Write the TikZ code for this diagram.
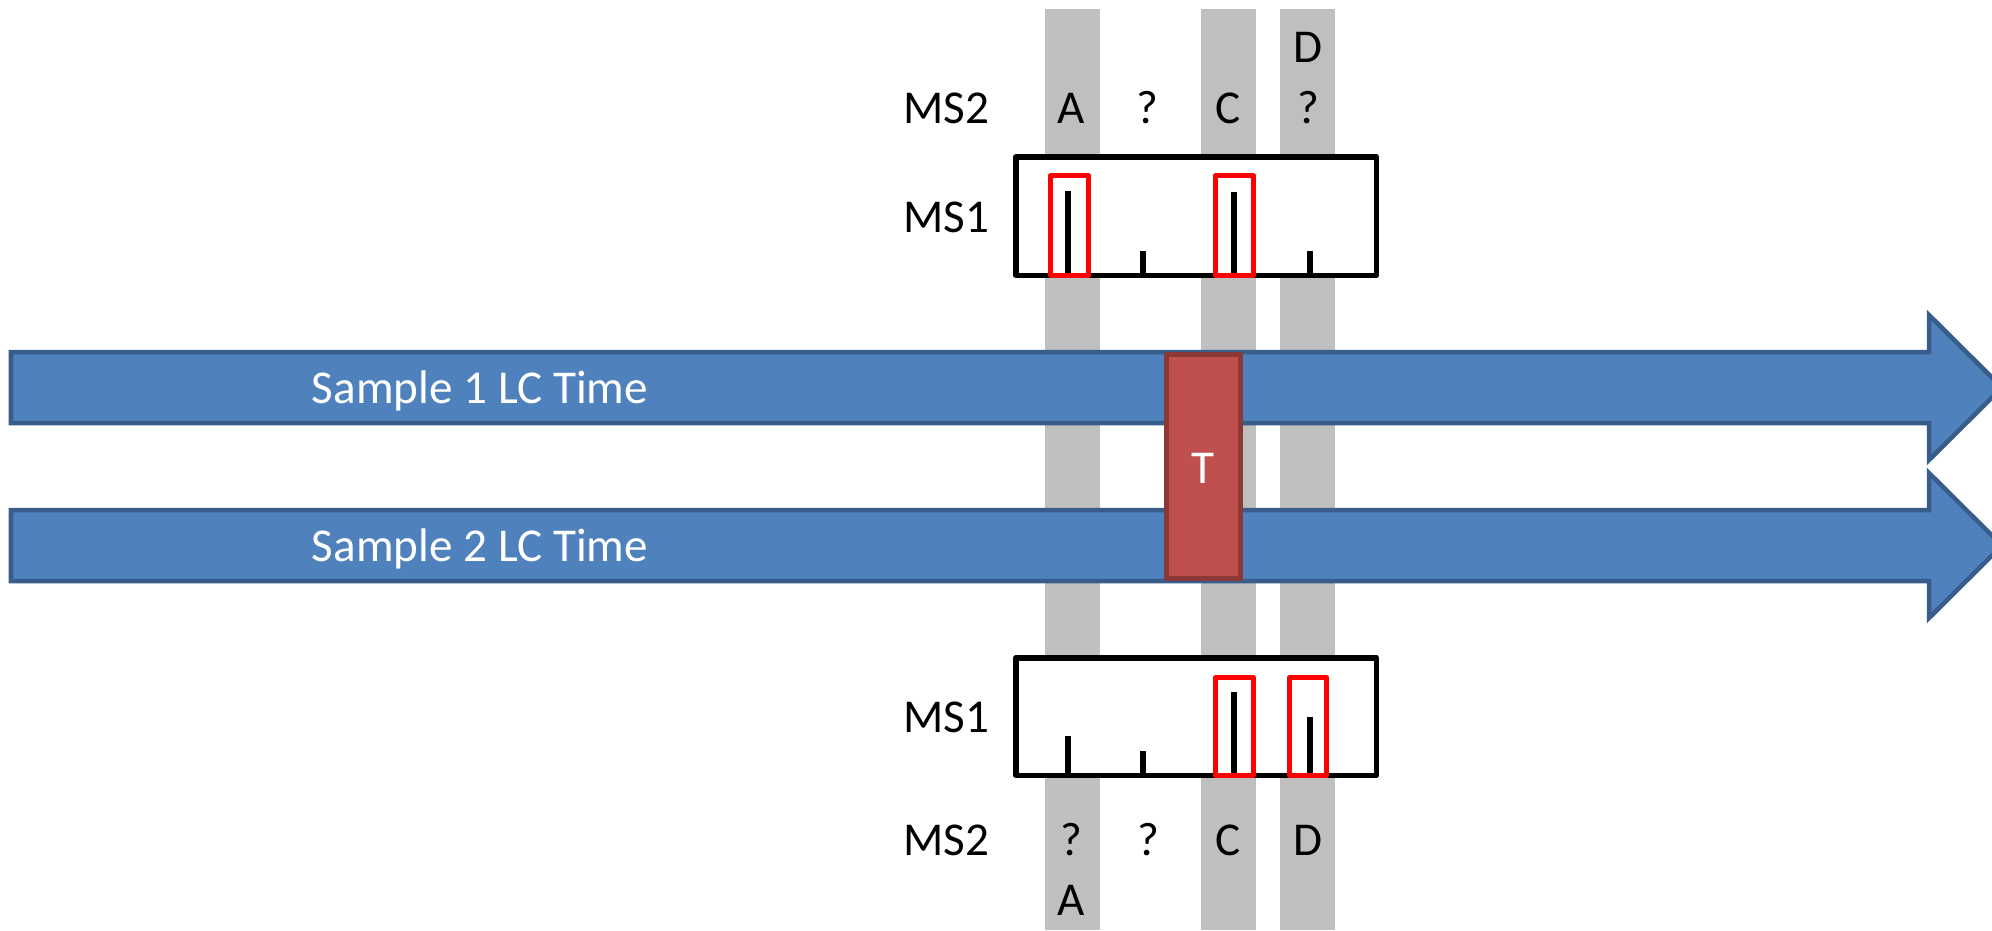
\documentclass[tikz,border=0pt]{standalone}
\usepackage{fontspec}
\setmainfont{Carlito}
\definecolor{band}{HTML}{BFBFBF}
\definecolor{lcfill}{HTML}{4F81BD}
\definecolor{lcedge}{HTML}{385D8A}
\definecolor{tfill}{HTML}{C0504D}
\definecolor{tedge}{HTML}{8C3836}
\tikzset{
  lbl/.style={anchor=base, inner sep=0pt, font=\fontsize{13.4pt}{16pt}\selectfont},
  wlbl/.style={lbl, text=white},
  band/.style={fill=band, draw=none},
  specbox/.style={draw=black, fill=white, line width=0.055cm, line join=round},
  pick/.style={draw=red, line width=0.05cm, line join=round},
  peak/.style={draw=black, line width=0.06cm},
  lcarrow/.style={fill=lcfill, draw=lcedge, line width=0.045cm, line join=miter},
  tbox/.style={fill=tfill, draw=tedge, line width=0.05cm, line join=round},
}
\begin{document}
\begin{tikzpicture}[x=0.01cm, y=-0.01cm]
\useasboundingbox (0,0) rectangle (1992,930);
\clip (0,0) rectangle (1992,930);

% retention-time bands
\fill[band] (1045,9) rectangle (1100,930);
\fill[band] (1201,9) rectangle (1256,930);
\fill[band] (1280,9) rectangle (1335,930);

% upper MS1 spectrum
\draw[specbox] (1015.75,156.75) rectangle (1376.25,275.25);
\draw[peak] (1068,275) -- (1068,191);
\draw[peak] (1143,275) -- (1143,251);
\draw[peak] (1234,275) -- (1234,192);
\draw[peak] (1310,275) -- (1310,251);
\draw[pick] (1050.5,175.5) rectangle (1088.5,275.5);
\draw[pick] (1215.5,175.5) rectangle (1253.5,275.5);

% LC time arrows
\draw[lcarrow] (11,352) -- (1929,352) -- (1929,315) -- (2002,387.5) -- (1929,460) -- (1929,423) -- (11,423) -- cycle;
\draw[lcarrow] (11,510) -- (1929,510) -- (1929,473) -- (2002,545.5) -- (1929,618) -- (1929,581) -- (11,581) -- cycle;
\node[wlbl] (s1) at (480,403) {Sample 1 LC Time};
\node[wlbl] (s2) at (480,561) {Sample 2 LC Time};

% aligned time window
\draw[tbox] (1166.5,354.5) rectangle (1240.5,578.5);
\node[wlbl] (t) at (1203,483) {T};

% lower MS1 spectrum
\draw[specbox] (1015.75,657.75) rectangle (1376.25,775.25);
\draw[peak] (1068,775) -- (1068,736);
\draw[peak] (1143,775) -- (1143,751);
\draw[peak] (1234,775) -- (1234,692);
\draw[peak] (1310,775) -- (1310,717);
\draw[pick] (1215.5,677.5) rectangle (1253.5,775.5);
\draw[pick] (1289.5,677.5) rectangle (1326.5,775.5);

% upper labels
\node[lbl] (ms2a) at (946,123) {MS2};
\node[lbl] (ms1a) at (946,232) {MS1};
\node[lbl] (ua) at (1071,123) {A};
\node[lbl] (uq) at (1147,123) {?};
\node[lbl] (uc) at (1228,123) {C};
\node[lbl] (ud) at (1308,62) {D};
\node[lbl] (udq) at (1308,123) {?};

% lower labels
\node[lbl] (ms1b) at (946,732) {MS1};
\node[lbl] (ms2b) at (946,855) {MS2};
\node[lbl] (laq) at (1071,855) {?};
\node[lbl] (la) at (1071,915) {A};
\node[lbl] (lq) at (1148,855) {?};
\node[lbl] (lc) at (1228,855) {C};
\node[lbl] (ld) at (1308,855) {D};
\end{tikzpicture}
\end{document}
